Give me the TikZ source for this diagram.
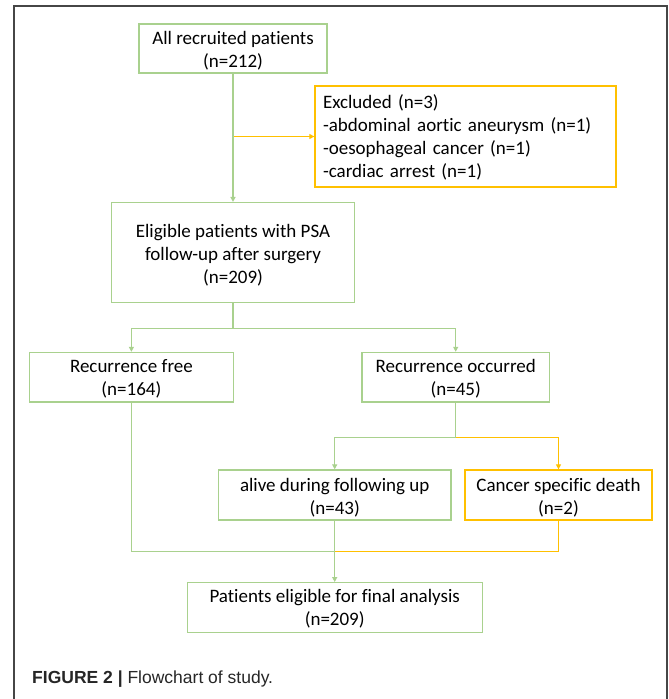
\documentclass[tikz,border=0pt]{standalone}
\usepackage{fontspec}
\setmainfont{Carlito}[Ligatures={NoCommon,NoContextual}]
\newfontfamily\capfont{Liberation Sans}
\usetikzlibrary{arrows.meta}
\definecolor{boxgreen}{RGB}{169,209,142}
\definecolor{boxyellow}{RGB}{255,192,0}
\definecolor{framegray}{RGB}{70,70,70}
\newcommand\topr[1]{\rule{0pt}{#1pt}}
\newcommand\botr[1]{\rule[-#1pt]{0pt}{#1pt}}
\begin{document}
\begin{tikzpicture}[x=1pt,y=-1pt,
  box/.style={draw=boxgreen,line width=1.3pt,align=center,inner sep=0pt,
    font=\fontsize{19}{23}\selectfont,text=black},
  ybox/.style={box,draw=boxyellow},
  gline/.style={draw=boxgreen,line width=1.3pt},
  yline/.style={draw=boxyellow,line width=1.3pt},
  tip/.style={-{Triangle[length=5pt,width=5pt]}}]
\useasboundingbox (0,0) rectangle (669,699);
% frame
\draw[framegray,line width=1.3pt] (14,710) -- (14,6) -- (667,6) -- (667,710);
% boxes
\node[box,minimum width=188pt,minimum height=49pt] (rec) at (233,48.5)
  {\topr{20}All recruited patients\\(n=212)\botr{6}};
\node[ybox,minimum width=301pt,minimum height=101pt,align=left,text width=285pt] (exc) at (465.5,136.5)
  {\topr{22.3}Excluded (n=3)\\-abdominal aortic aneurysm (n=1)\\-oesophageal cancer (n=1)\\-cardiac arrest (n=1)\botr{9.7}};
\node[box,minimum width=242.5pt,minimum height=100pt] (elig) at (233,252.6)
  {\topr{35}Eligible patients with PSA\\follow-up after surgery\\(n=209)\botr{19}};
\node[box,minimum width=204pt,minimum height=49.5pt] (free) at (131.4,377.2)
  {\topr{20}Recurrence free\\(n=164)\botr{6.5}};
\node[box,minimum width=187.5pt,minimum height=49.5pt] (occ) at (455.7,377.2)
  {\topr{20}Recurrence occurred\\(n=45)\botr{6.5}};
\node[box,minimum width=232.6pt,minimum height=50pt] (alive) at (334.7,495)
  {\topr{21}alive during following up\\(n=43)\botr{6}};
\node[ybox,minimum width=187pt,minimum height=50pt] (death) at (558.5,495)
  {\topr{21}Cancer specific death\\(n=2)\botr{6}};
\node[box,minimum width=295pt,minimum height=49.6pt] (final) at (334.7,607.5)
  {\topr{19.5}Patients eligible for final analysis\\(n=209)\botr{7.1}};
% connectors
\draw[yline,tip] (rec.south |- exc.west) -- (exc.west);
\draw[gline,tip] (rec.south) -- (elig.north);
\draw[gline] (elig.south) -- ++(0,25) coordinate (b1);
\draw[gline,tip] (b1) -| (free.north);
\draw[gline,tip] (b1) -| (occ.north);
\draw[gline] (occ.south) -- ++(0,34.7) coordinate (b2);
\draw[yline,tip] (b2) -| (death.north);
\draw[gline,tip] (b2) -| (alive.north);
\coordinate (m) at (334.7,551.7);
\draw[yline] (death.south) |- (m);
\draw[gline] (free.south) |- (m);
\draw[gline,tip] (alive.south) -- (final.north);
% caption
\node[anchor=base west,inner sep=0pt,font=\capfont\fontsize{17.5}{20}\selectfont,text=black!85] (cap) at (32,683)
  {\textbf{FIGURE 2 |} Flowchart of study.};
\end{tikzpicture}
\end{document}
